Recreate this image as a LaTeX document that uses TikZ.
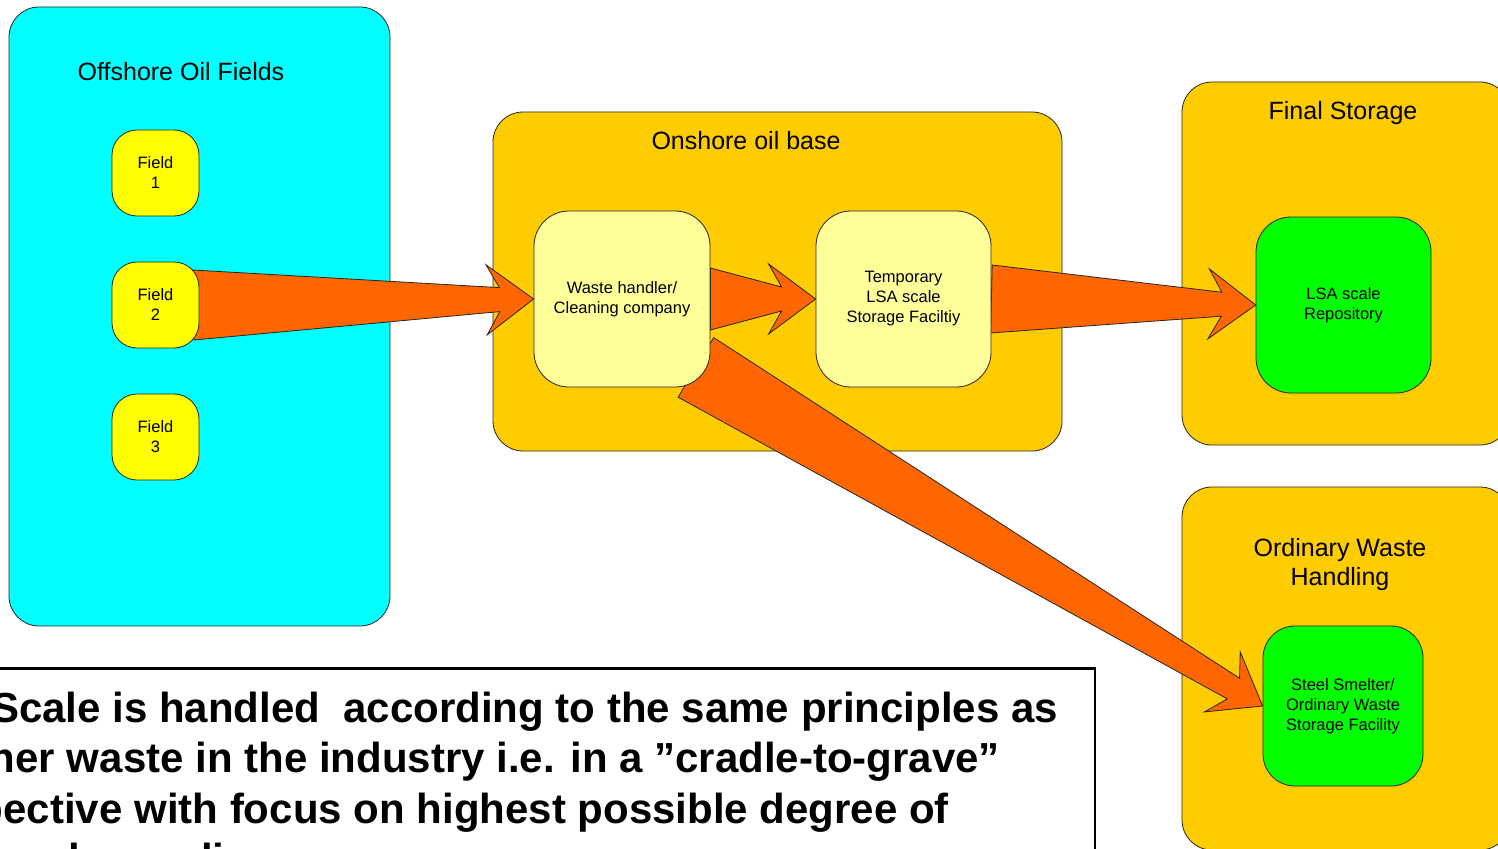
\documentclass[tikz,border=0pt]{standalone}
\usepackage{fontspec}
\setmainfont{Liberation Sans}
\usetikzlibrary{calc}

\definecolor{seablue}{HTML}{00FFFF}
\definecolor{sitegold}{HTML}{FFCC00}
\definecolor{paleyellow}{HTML}{FFFF99}
\definecolor{fieldyellow}{HTML}{FFFF00}
\definecolor{finalgreen}{HTML}{00FF00}
\definecolor{flowred}{HTML}{FF6600}

\pgfdeclarelayer{regions}
\pgfdeclarelayer{flows}
\pgfsetlayers{regions,flows,main}

\tikzset{
  outline/.style={draw=black!85, line width=0.8pt},
  region/.style={outline, rectangle, rounded corners=30pt, inner sep=0pt},
  fieldbox/.style={outline, rectangle, rounded corners=25pt, fill=fieldyellow,
    minimum width=87pt, minimum height=86pt, inner sep=0pt, align=center,
    font=\fontsize{16.5}{20}\selectfont},
  stepbox/.style={outline, rectangle, rounded corners=35pt, inner sep=0pt,
    minimum width=176pt, minimum height=176pt, align=center,
    font=\fontsize{16.5}{20}\selectfont},
  title/.style={anchor=base, align=center, font=\fontsize{25}{29}\selectfont},
  flowarrow/.style={outline, fill=flowred, line join=miter},
  noteline/.style={font=\fontsize{42}{50}\bfseries\selectfont, inner sep=0pt},
}

% block arrow with a tapered shaft: #1 tail centre, #2 tip, #3 tail half-width
\newcommand\flowshape[3]{%
  \draw[flowarrow]
    ($(#1)!#3!90:(#2)$)
    -- ($(#2)!34pt!(#1)!12pt!90:(#2)$)
    -- ($(#2)!47pt!(#1)!35pt!90:(#2)$)
    -- (#2)
    -- ($(#2)!47pt!(#1)!35pt!-90:(#2)$)
    -- ($(#2)!34pt!(#1)!12pt!-90:(#2)$)
    -- ($(#1)!#3!-90:(#2)$) -- cycle;}

\begin{document}
\begin{tikzpicture}[x=1pt,y=-1pt]
\useasboundingbox (0,0) rectangle (1498,848);

% ---- inner units ----
\node[fieldbox] (f1) at (155.5,173) {Field\\1};
\node[fieldbox] (f2) at (155.5,305) {Field\\2};
\node[fieldbox] (f3) at (155.5,437) {Field\\3};

\node[stepbox, fill=paleyellow] (wh) at (622,299) {Waste handler/\\Cleaning company};
\node[stepbox, fill=paleyellow, minimum width=175pt] (tmp) at (903.5,299)
  {Temporary\\LSA scale\\Storage Faciltiy};
\node[stepbox, fill=finalgreen, minimum width=175pt] (lsa) at (1343.5,305)
  {LSA scale\\Repository};
\node[stepbox, fill=finalgreen, rounded corners=32pt, minimum width=160pt,
  minimum height=160pt] (steel) at (1343,706)
  {Steel Smelter/\\Ordinary Waste\\Storage Facility};

% ---- surrounding regions ----
\begin{pgfonlayer}{regions}
\node[region, fill=seablue, minimum width=381pt, minimum height=619pt] (off) at (199.5,316.5) {};
\node[region, fill=sitegold, minimum width=569pt, minimum height=339pt] (base) at (777.5,281.5) {};
\node[region, fill=sitegold, minimum width=328pt, minimum height=363pt] (final) at (1346,263.5) {};
\node[region, fill=sitegold, minimum width=328pt, minimum height=363pt] (ordinary) at (1346,668.5) {};

\node[title] (offt) at (181,81) {Offshore Oil Fields};
\node[title] (baset) at (746,149) {Onshore oil base};
\node[title] (finalt) at (1343,120) {Final Storage};
\node[title] (ordt) at (1340,585) {Ordinary Waste\\Handling};

% ---- statement box ----
\node[draw=black, line width=2.5pt, fill=white, rectangle, inner sep=0pt,
  minimum width=1136pt, minimum height=210pt, anchor=north east] (note) at (1096,667) {};
\node[noteline, anchor=base east] (n1) at (1058,722)
  {LSA Scale is handled\ \ according to the same principles as};
\node[noteline, anchor=base east] (n2) at (1000,772.5)
  {for other waste in the industry i.e. in a ”cradle-to-grave”};
\node[noteline, anchor=base east] (n3) at (949,823)
  {perspective with focus on highest possible degree of};
\node[noteline, anchor=base west] (n4) at (54,873.5)
  {\llap{reuse an}d recycling.};
\end{pgfonlayer}

% ---- waste flows ----
\begin{pgfonlayer}{flows}
\coordinate (t1) at ($(f2.east)+(-6,0)$);
\coordinate (t4) at ($(wh.south east)+(-14.5,-20)$);
\flowshape{t1}{wh.west}{35pt}
\flowshape{wh.east}{tmp.west}{31pt}
\flowshape{tmp.east}{lsa.west}{34pt}
\flowshape{t4}{steel.west}{34.7pt}
\end{pgfonlayer}
\end{tikzpicture}
\end{document}
